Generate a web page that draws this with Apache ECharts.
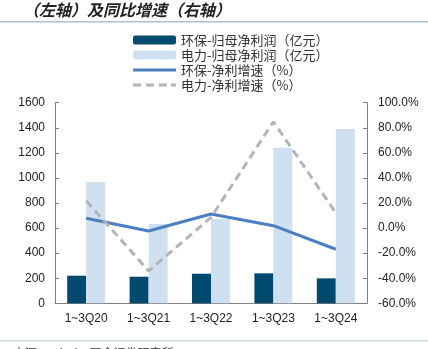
<!DOCTYPE html>
<html><head><meta charset="utf-8">
<script src="https://cdn.jsdelivr.net/npm/echarts@6/dist/echarts.min.js"></script>
<style>html,body{margin:0;padding:0;background:#fff;}#c{width:428px;height:349px;}</style>
</head><body><div id="c"></div>
<script>
const categories = ['1~3Q20','1~3Q21','1~3Q22','1~3Q23','1~3Q24'];
const envProfit = [220, 212, 236, 239, 199];
const powerProfit = [967, 632, 672, 1241, 1390];
const envGrowth = [7.8, -2.3, 11.2, 1.9, -16.9];
const powerGrowth = [21.8, -34.2, 8.5, 84.8, 12.2];
const seriesNames = ['环保-归母净利润（亿元）','电力-归母净利润（亿元）','环保-净利增速（%）','电力-净利增速（%）'];
const titleText = '（左轴）及同比增速（右轴）';
const sourceText = '来源：Wind，国金证券研究所';

const chart = echarts.init(document.getElementById('c'));
const axisColor = '#808080';
const labelStyle = {color:'#222', fontSize:12, fontFamily:'Liberation Sans, Arial, sans-serif'};
const pad = 'M0,0h0.01v0.01h-0.01z M43,9h-0.01v-0.01h0.01z ';
const solidIcon = 'path://' + pad + 'M0,3h43v3h-43z';
const dashIcon = 'path://' + pad + 'M0,3h8v3h-8z M13,3h8v3h-8z M26,3h8v3h-8z M38,3h5v3h-5z';
chart.setOption({
  animation:false,
  graphic:[
    {type:'text', left:23, top:2, style:{text:titleText, fontSize:16, fontStyle:'italic', fontWeight:'bold', fill:'#222', fontFamily:'Noto Sans CJK SC'}},
    {type:'rect', shape:{x:0,y:21,width:428,height:1.5}, style:{fill:'#a9c3d6'}},
    {type:'rect', shape:{x:0,y:340,width:428,height:1.5}, style:{fill:'#c9d9e6'}},
    {type:'text', left:13, top:347, style:{text:sourceText, fontSize:12, fill:'#333', fontFamily:'Noto Sans CJK SC'}}
  ],
  legend:{
    orient:'vertical', left:133, top:33, padding:0, itemWidth:43, itemHeight:9, itemGap:1,
    textStyle:{color:'#333', fontSize:13, lineHeight:14, fontFamily:'Noto Sans CJK SC'},
    data:[
      {name:seriesNames[0]},
      {name:seriesNames[1]},
      {name:seriesNames[2], icon:solidIcon},
      {name:seriesNames[3], icon:dashIcon}
    ]
  },
  grid:{left:55, right:61, top:102.7, bottom:45.7},
  xAxis:{
    type:'category', data:categories,
    axisLine:{lineStyle:{color:axisColor}},
    axisTick:{inside:true, length:4, lineStyle:{color:axisColor}},
    axisLabel:Object.assign({margin:9}, labelStyle)
  },
  yAxis:[
    {type:'value', min:0, max:1600, interval:200, splitLine:{show:false},
     axisLine:{show:true, lineStyle:{color:axisColor}},
     axisTick:{show:true, inside:true, length:4, lineStyle:{color:axisColor}},
     axisLabel:Object.assign({margin:10, formatter:v=>String(v)}, labelStyle)},
    {type:'value', min:-60, max:100, interval:20, splitLine:{show:false},
     axisLine:{show:true, lineStyle:{color:axisColor}},
     axisTick:{show:true, inside:true, length:4, lineStyle:{color:axisColor}},
     axisLabel:Object.assign({margin:11, formatter:v=>v.toFixed(1)+'%'}, labelStyle)}
  ],
  series:[
    {name:seriesNames[0], type:'bar', data:envProfit, barWidth:19, barGap:'0%', itemStyle:{color:'#004a70'}},
    {name:seriesNames[1], type:'bar', data:powerProfit, barWidth:19, barGap:'0%', itemStyle:{color:'#cfe0f1'}},
    {name:seriesNames[2], type:'line', yAxisIndex:1, data:envGrowth, symbol:'none', lineStyle:{color:'#4a7fc1', width:3}, itemStyle:{color:'#4a7fc1'}},
    {name:seriesNames[3], type:'line', yAxisIndex:1, data:powerGrowth, symbol:'none', lineStyle:{color:'#b4b4b4', width:3, type:[8,5]}, itemStyle:{color:'#b4b4b4'}}
  ]
});
</script></body></html>
